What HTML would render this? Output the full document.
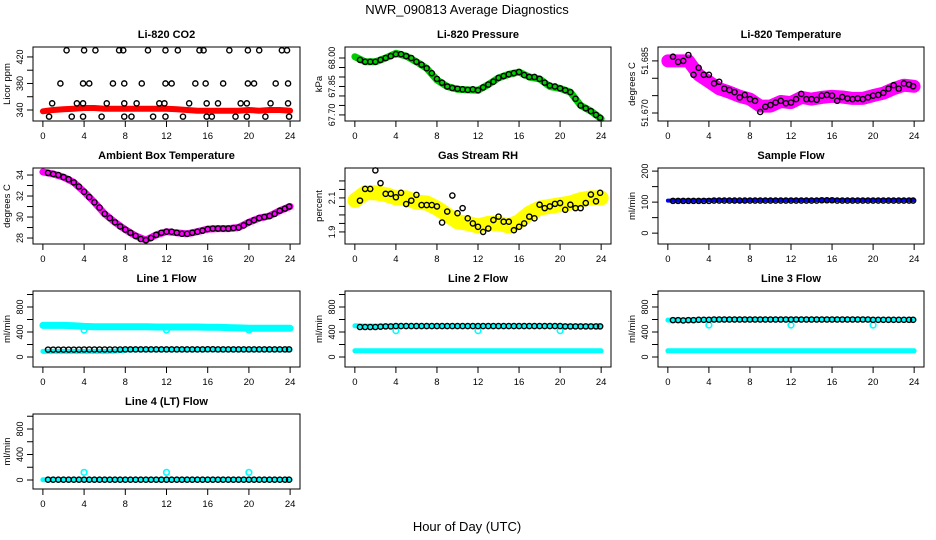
<!DOCTYPE html>
<html><head><meta charset="utf-8">
<style>
html,body{margin:0;padding:0;background:#fff;}
svg{display:block;font-family:"Liberation Sans",sans-serif;}
</style></head>
<body>
<svg id="chart" width="936" height="540" viewBox="0 0 936 540" xmlns="http://www.w3.org/2000/svg">
<rect x="0" y="0" width="936" height="540" fill="#fff"/>
<text x="467" y="14" font-size="13" text-anchor="middle">NWR_090813  Average Diagnostics</text>
<text x="467" y="531" font-size="13" text-anchor="middle">Hour of Day (UTC)</text>
</svg>
<script>
// ---- data ----
const hours = [0,1,2,3,4,5,6,7,8,9,10,11,12,13,14,15,16,17,18,19,20,21,22,23,24];
const xTicks = [0,4,8,12,16,20,24];
const blackT = [0.5,1,1.5,2,2.5,3,3.5,4,4.5,5,5.5,6,6.5,7,7.5,8,8.5,9,9.5,10,10.5,11,11.5,12,12.5,13,13.5,14,14.5,15,15.5,16,16.5,17,17.5,18,18.5,19,19.5,20,20.5,21,21.5,22,22.5,23,23.5,23.9];

// CO2
const co2Band = [338,340,341,342,343,343,342,342,342,342,342,342,342,341,340,339,339,339,339,339,340,339,340,340,339];
const co2T = [2.3,4,5.1,7.4,7.8,10.2,11.9,13.1,15.2,15.6,18.1,19.9,21,23.2,23.7, 1.7,3.9,4.5,6.8,7.9,9.6,11.9,12.5,14.8,15.8,17.5,19.9,20.5,22.6,23.8, 0.9,3.3,3.9,6.2,7.9,9.1,11.3,11.8,14.2,15.9,17,19.2,19.8,22.1,23.8, 0.6,2.8,3.9,5.7,7.9,8.6,10.7,11.9,13.6,15.9,16.4,18.7,19.8,21.6,23.9];
const co2V = [430,430,430,430,430,430,430,430,430,430,430,430,430,430,430, 380,380,380,380,380,380,380,380,380,380,380,380,380,380,380, 350,350,350,350,350,350,350,350,350,350,350,350,350,350,350, 330,330,330,330,330,330,330,330,330,330,330,330,330,330,330];

// Pressure
const presBand = [68.007,67.98,67.98,68.0,68.025,68.01,67.98,67.946,67.884,67.85,67.835,67.832,67.83,67.86,67.895,67.914,67.926,67.90,67.89,67.85,67.84,67.82,67.75,67.72,67.68];
const presV = [67.99,67.98,67.98,67.98,67.99,68.0,68.01,68.02,68.02,68.01,68.0,67.98,67.965,67.946,67.92,67.89,67.87,67.85,67.842,67.838,67.835,67.832,67.835,67.83,67.845,67.86,67.875,67.895,67.905,67.914,67.92,67.926,67.91,67.90,67.9,67.89,67.87,67.855,67.85,67.84,67.83,67.82,67.785,67.75,67.735,67.72,67.7,67.685];

// Li-820 temperature
const tempBand = [51.685,51.685,51.685,51.681,51.679,51.677,51.676,51.6748,51.674,51.672,51.672,51.6733,51.673,51.6745,51.674,51.6745,51.6748,51.6746,51.6742,51.6742,51.675,51.6757,51.677,51.678,51.6777];
const tempV = [51.6862,51.6847,51.685,51.6867,51.681,51.683,51.681,51.681,51.6785,51.679,51.677,51.6766,51.676,51.6745,51.6752,51.674,51.6735,51.6703,51.6718,51.6723,51.673,51.6735,51.6728,51.673,51.674,51.6755,51.674,51.674,51.6738,51.675,51.6752,51.675,51.6735,51.6746,51.6742,51.674,51.6742,51.674,51.6745,51.675,51.6752,51.6758,51.677,51.678,51.677,51.6785,51.6782,51.6777];

// Ambient box temperature
const ambBand = [34.3,34.1,33.8,33.3,32.4,31.4,30.3,29.5,28.8,28.2,27.8,28.3,28.6,28.5,28.4,28.6,28.85,28.9,28.9,29.0,29.5,29.9,30.1,30.6,31.0];
const ambV = [34.2,34.1,34.0,33.8,33.6,33.3,32.9,32.4,31.9,31.4,30.9,30.3,29.9,29.5,29.1,28.8,28.5,28.2,27.9,27.8,28.0,28.3,28.5,28.6,28.6,28.5,28.4,28.4,28.5,28.6,28.7,28.85,28.9,28.9,28.9,28.9,28.95,29.0,29.2,29.5,29.7,29.9,30.0,30.1,30.3,30.6,30.8,31.0];

// Gas stream RH
const rhBand = [2.085,2.13,2.13,2.12,2.10,2.10,2.075,2.07,2.04,2.0,1.96,1.95,1.935,1.95,1.95,1.935,1.96,2.01,2.04,2.05,2.06,2.07,2.09,2.10,2.10];
const rhV = [2.084,2.153,2.153,2.262,2.187,2.124,2.124,2.104,2.13,2.064,2.084,2.118,2.058,2.058,2.058,2.05,1.955,2.02,2.114,2.01,2.04,1.98,1.95,1.93,1.90,1.92,1.97,1.99,1.96,1.96,1.91,1.93,1.95,1.99,1.98,2.06,2.04,2.05,2.065,2.07,2.03,2.06,2.04,2.04,2.07,2.12,2.08,2.13];

// Sample flow
const sampBand = [105,105,105,105,106,106,106,105,106,106,106,106,106,106,106,107,107,106,106,106,106,106,106,106,106];
const sampV = [104,104,104,104,104,104,104,104,105,105,105,105,105,105,105,105,105,105,105,105,105,105,105,105,105,105,105,105,105,106,106,106,105,105,105,105,105,105,105,105,105,105,105,105,105,105,105,105];

// Line flows
const outT = [4,12,20];
const l1High = [505,505,505,500,490,485,485,485,485,485,485,480,480,480,480,480,475,475,470,465,460,460,460,460,460];
const l1Low = [90,90,90,90,90,90,90,95,110,115,115,115,115,115,115,115,115,115,115,115,115,115,115,115,115];
const l1V = [118,118,118,118,118,118,118,120,120,120,120,120,120,120,120,122,122,122,122,122,122,122,122,122,122,122,122,122,122,122,122,124,124,122,122,122,122,122,122,122,122,122,122,122,122,122,122,122];
const l1Out = [430,430,430];
const l2High = [500,495,495,495,495,495,495,495,495,495,495,495,495,495,495,495,495,495,495,495,495,495,495,495,495];
const l2Low = [100,100,100,100,100,100,100,100,100,100,100,100,100,100,100,100,100,100,100,100,100,100,100,100,100];
const l2V = [480,480,480,480,485,490,490,495,495,495,495,495,495,495,495,495,495,495,495,495,495,495,495,495,495,495,495,495,495,495,495,495,495,495,495,495,495,495,495,495,490,490,490,490,490,490,490,490];
const l2Out = [420,420,420];
const l3High = [590,590,590,590,595,595,600,600,600,600,600,600,600,600,600,600,600,600,600,600,595,595,595,595,595];
const l3Low = [100,100,100,100,100,100,100,100,100,100,100,100,100,100,100,100,100,100,100,100,100,100,100,100,100];
const l3V = [590,590,585,590,590,595,595,595,600,600,600,600,600,600,600,600,600,600,600,600,600,600,600,600,600,600,600,600,600,600,600,600,600,600,600,600,600,600,600,595,595,595,595,595,595,595,595,595];
const l3Out = [510,510,510];
const l4High = [5,5,5,5,5,5,5,5,5,5,5,5,5,5,5,5,5,5,5,5,5,5,5,5,5];
const l4V = [5,5,5,5,5,5,5,5,5,5,5,5,5,5,5,5,5,5,5,5,5,5,5,5,5,5,5,5,5,5,5,5,5,5,5,5,5,5,5,5,5,5,5,5,5,5,5,5];
const l4Out = [120,120,120];

// ---- layout ----
const colL = [33,345,658], colR = [300,611,924];
const rowT = [47,168,291,414], rowB = [121,244,367,489];
const NS = 'http://www.w3.org/2000/svg';
const svg = document.getElementById('chart');
function mk(tag, attrs, parent){
  const e = document.createElementNS(NS, tag);
  for (const k in attrs) e.setAttribute(k, attrs[k]);
  (parent||svg).appendChild(e);
  return e;
}

function panel(p){
  const L = colL[p.col], R = colR[p.col], T = rowT[p.row], B = rowB[p.row];
  const g = mk('g', {});
  
  
  const xs = t => L + (t + 0.96) / 25.92 * (R - L);
  const ys = v => B - (v - p.ymin) / (p.ymax - p.ymin) * (B - T);
  const tt = mk('text', {x:(L+R)/2, y:T-9, 'font-size':11, 'font-weight':'bold', 'text-anchor':'middle'}, g);
  tt.textContent = p.title;
  
  
  // x axis
  const xa = mk('g', {}, g);
  
  
  mk('line', {x1:xs(xTicks[0]), x2:xs(xTicks[xTicks.length-1]), y1:B, y2:B, stroke:'#000'}, xa);
  xTicks.forEach(t => {
    mk('line', {x1:xs(t), x2:xs(t), y1:B, y2:B+6, stroke:'#000'}, xa);
    const lb = mk('text', {x:xs(t), y:B+18, 'font-size':9.5, 'text-anchor':'middle'}, xa);
    lb.textContent = t;
    
    
  });
  // y axis
  const ya = mk('g', {}, g);
  
  
  mk('line', {x1:L, x2:L, y1:ys(p.ticks[0]), y2:ys(p.ticks[p.ticks.length-1]), stroke:'#000'}, ya);
  p.ticks.forEach(v => { mk('line', {x1:L-6, x2:L, y1:ys(v), y2:ys(v), stroke:'#000'}, ya); });
  p.labels.forEach((v,i) => {
    const y = ys(v), x = L - 10;
    const lb = mk('text', {x:x, y:y, 'font-size':9, 'text-anchor':'middle', transform:`rotate(-90 ${x} ${y})`}, ya);
    lb.textContent = p.labelText ? p.labelText[i] : v;
    
    
  });
  const yx = L - 23, yy = (T+B)/2;
  const yt = mk('text', {x:yx, y:yy, 'font-size':9.5, 'text-anchor':'middle', transform:`rotate(-90 ${yx} ${yy})`}, g);
  yt.textContent = p.ylab;
  
  
  // bands
  (p.bands||[]).forEach(b => {
    const pts = hours.map((h,i) => xs(h).toFixed(1) + ',' + ys(b.vals[i]).toFixed(1)).join(' ');
    const pl = mk('polyline', {points:pts, fill:'none', stroke:b.color, 'stroke-width':b.w, 'stroke-linecap':'round', 'stroke-linejoin':'round'}, g);
    
    
  });
  (p.outV ? [p.outV] : []).forEach(ov => {
    outT.forEach((t,i) => {
      const c = mk('circle', {cx:xs(t), cy:ys(ov[i]), r:2.8, fill:'none', stroke:p.outColor, 'stroke-width':1.6}, g);
      
      
    });
  });
  const bt = p.blackT || blackT;
  p.blackV.forEach((v,i) => {
    const c = mk('circle', {cx:xs(bt[i]), cy:ys(v), r:2.6, fill:'none', stroke:'#000', 'stroke-width':1.4}, g);
    
    
  });
  const bx = mk('rect', {x:L, y:T, width:R-L, height:B-T, fill:'none', stroke:'#000', 'stroke-width':1}, g);
  
  
}

const flowTicks = [0,200,400,600,800,1000];
const flowLabels = [0,400,800];
panel({id:'co2', title:'Li-820 CO2', ylab:'Licor ppm', col:0,row:0, ymin:323.4,ymax:435, ticks:[340,360,380,400,420], labels:[340,380,420], bands:[{vals:co2Band,color:'#f00',w:6}], blackT:co2T, blackV:co2V});
panel({id:'pressure', title:'Li-820 Pressure', ylab:'kPa', col:1,row:0, ymin:67.668,ymax:68.058, ticks:[67.70,67.75,67.80,67.85,67.90,67.95,68.00], labels:[67.70,67.85,68.00], labelText:['67.70','67.85','68.00'], bands:[{vals:presBand,color:'#00cc00',w:7}], blackV:presV});
panel({id:'li820-temperature', title:'Li-820 Temperature', ylab:'degrees C', col:2,row:0, ymin:51.6677,ymax:51.689, ticks:[51.670,51.675,51.680,51.685], labels:[51.670,51.685], labelText:['51.670','51.685'], bands:[{vals:tempBand,color:'#ff00ff',w:13}], blackV:tempV});
panel({id:'ambient-temperature', title:'Ambient Box Temperature', ylab:'degrees C', col:0,row:1, ymin:27.43,ymax:34.67, ticks:[28,29,30,31,32,33,34], labels:[28,30,32,34], bands:[{vals:ambBand,color:'#ff00ff',w:7}], blackV:ambV});
panel({id:'gas-rh', title:'Gas Stream RH', ylab:'percent', col:1,row:1, ymin:1.829,ymax:2.276, ticks:[1.9,1.95,2.0,2.05,2.1,2.15,2.2], labels:[1.9,2.1], labelText:['1.9','2.1'], bands:[{vals:rhBand,color:'#ffff00',w:15}], blackV:rhV});
panel({id:'sample-flow', title:'Sample Flow', ylab:'ml/min', col:2,row:1, ymin:-35,ymax:210, ticks:[0,50,100,150,200], labels:[0,100,200], bands:[{vals:sampBand,color:'#0000ff',w:4}], blackV:sampV});
panel({id:'line1-flow', title:'Line 1 Flow', ylab:'ml/min', col:0,row:2, ymin:-160,ymax:1056, ticks:flowTicks, labels:flowLabels, bands:[{vals:l1High,color:'#00ffff',w:7},{vals:l1Low,color:'#00ffff',w:5}], outV:l1Out, outColor:'#00ffff', blackV:l1V});
panel({id:'line2-flow', title:'Line 2 Flow', ylab:'ml/min', col:1,row:2, ymin:-160,ymax:1056, ticks:flowTicks, labels:flowLabels, bands:[{vals:l2High,color:'#00ffff',w:5},{vals:l2Low,color:'#00ffff',w:5}], outV:l2Out, outColor:'#00ffff', blackV:l2V});
panel({id:'line3-flow', title:'Line 3 Flow', ylab:'ml/min', col:2,row:2, ymin:-160,ymax:1056, ticks:flowTicks, labels:flowLabels, bands:[{vals:l3High,color:'#00ffff',w:5},{vals:l3Low,color:'#00ffff',w:5}], outV:l3Out, outColor:'#00ffff', blackV:l3V});
panel({id:'line4-flow', title:'Line 4 (LT) Flow', ylab:'ml/min', col:0,row:3, ymin:-141,ymax:1035, ticks:flowTicks, labels:flowLabels, bands:[{vals:l4High,color:'#00ffff',w:5}], outV:l4Out, outColor:'#00ffff', blackV:l4V});
</script>
</body></html>
